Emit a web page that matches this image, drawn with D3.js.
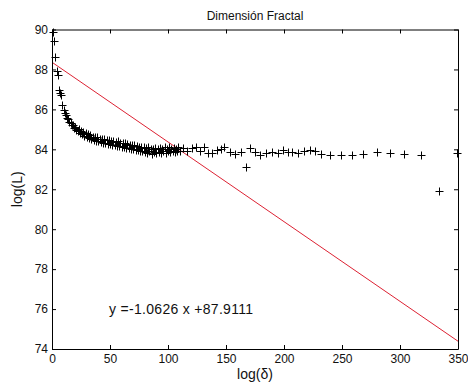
<!DOCTYPE html>
<html><head><meta charset="utf-8">
<script src="https://cdn.jsdelivr.net/npm/d3@7"></script>
<style>
html,body{margin:0;padding:0;background:#fff;}
text{font-family:"Liberation Sans",Arial,Helvetica,sans-serif;fill:#111;}
</style></head>
<body>
<svg id="chart" width="468" height="385"></svg>
<script>
const title = "Dimensión Fractal";
const xLabel = "log(δ)";
const yLabel = "log(L)";
const equation = "y =-1.0626 x +87.9111";
const xTicks = [0,50,100,150,200,250,300,350];
const yTicks = [74,76,78,80,82,84,86,88,90];

// dense part: delta = 1..110
const denseY = [89.88,89.43,88.60,87.93,87.72,86.95,86.80,86.72,86.20,85.98,
85.80,85.72,85.58,85.50,85.38,85.32,85.22,85.24,85.06,85.14,
84.96,84.90,85.04,84.84,84.92,84.76,84.86,84.68,84.82,84.64,
84.76,84.58,84.72,84.52,84.64,84.48,84.60,84.42,84.62,84.40,
84.54,84.36,84.50,84.32,84.52,84.30,84.46,84.28,84.48,84.26,
84.42,84.22,84.44,84.20,84.38,84.16,84.40,84.15,84.32,84.12,
84.34,84.10,84.30,84.08,84.27,84.05,84.24,84.02,84.22,84.00,
84.20,83.96,84.17,83.98,84.14,83.93,84.12,83.90,84.10,83.88,
84.07,83.83,84.10,83.90,84.04,83.76,84.02,83.86,84.07,83.80,
84.00,83.88,84.08,83.83,84.02,83.90,84.10,83.84,84.04,83.93,
84.12,83.86,84.02,83.90,84.08,83.88,84.04,83.93,84.10,83.90];
const denseX = [1,2,3,4,5,6,7,8,9,10,11,12,13,14,15,16,17,18,19,20,
21,22,23,24,25,26,27,28,29,30,31,32,33,34,35,36,37,38,39,40,
41,42,43,44,45,46,47,48,49,50,51,52,53,54,55,56,57,58,59,60,
61,62,63,64,65,66,67,68,69,70,71,72,73,74,75,76,77,78,79,80,
81,82,83,84,85,86,87,88,89,90,91,92,93,94,95,96,97,98,99,100,
101,102,103,104,105,106,107,108,109,110];
// sparse part
const sparseX = [113.2,116.6,120.4,124.1,127.6,131,134.7,137.7,142,145.4,148.3,153.4,157.8,162.7,167.2,170.7,175,179.3,184.5,189.9,194.6,199.4,203.2,207.2,211.8,217.5,222.4,226.7,231.9,239.7,249.1,258.4,268.4,279.9,291.4,303.4,317.8,333.9,348.9];
const sparseY = [84.06,83.94,84.06,84.14,83.94,84.11,83.81,83.84,83.98,84.01,84.14,83.89,83.78,83.89,83.10,84.06,83.89,83.73,83.84,83.86,83.81,83.98,83.89,83.86,83.81,83.90,83.95,83.93,83.76,83.73,83.73,83.73,83.78,83.85,83.81,83.75,83.73,81.93,83.80];
// fitted line endpoints (as drawn)
const fitX = [0, 350];
const fitY = [88.36, 74.39];

const svg = d3.select("#chart");
const L = 52, R = 458, T = 29.5, B = 349;
const x = d3.scaleLinear().domain([0,350]).range([L,R]);
const y = d3.scaleLinear().domain([74,90]).range([B,T]);

const pts = denseX.map((d,i)=>[d,denseY[i]]).concat(sparseX.map((d,i)=>[d,sparseY[i]]));

// fit line
svg.append("line")
  .attr("x1",x(fitX[0])).attr("y1",y(fitY[0]))
  .attr("x2",x(fitX[1])).attr("y2",y(fitY[1]))
  .attr("stroke","#dd2233").attr("stroke-width",1);

// markers
const ms = 4;
svg.append("g").selectAll("path").data(pts).join("path")
  .attr("d", d => {
    const cx = Math.round(x(d[0]))+0.5, cy = Math.round(y(d[1]))+0.5;
    return `M${cx-ms},${cy}H${cx+ms}M${cx},${cy-ms}V${cy+ms}`;
  })
  .attr("stroke","#000").attr("stroke-width",1).attr("fill","none");

// axes (inward ticks, box)
const tk = 4;
const gx = svg.append("g").attr("transform",`translate(0,${B})`)
  .call(d3.axisBottom(x).tickValues(xTicks).tickSizeInner(-tk).tickSizeOuter(0).tickPadding(5));
const gxt = svg.append("g").attr("transform",`translate(0,${T})`)
  .call(d3.axisTop(x).tickValues(xTicks).tickSizeInner(-tk).tickSizeOuter(0).tickFormat(""));
const gy = svg.append("g").attr("transform",`translate(${L},0)`)
  .call(d3.axisLeft(y).tickValues(yTicks).tickSizeInner(-tk).tickSizeOuter(0).tickPadding(4));
const gyr = svg.append("g").attr("transform",`translate(${R},0)`)
  .call(d3.axisRight(y).tickValues(yTicks).tickSizeInner(-tk).tickSizeOuter(0).tickFormat(""));
[gx,gxt,gy,gyr].forEach(g=>{
  g.select(".domain").attr("stroke","#000");
  g.selectAll(".tick line").attr("stroke","#000");
  g.selectAll("text").attr("font-family","Liberation Sans, Arial, sans-serif").attr("font-size",12).attr("fill","#222");
});

// title & labels
svg.append("text").attr("x",(L+R)/2).attr("y",20).attr("text-anchor","middle")
  .attr("font-size",12).text(title);
svg.append("text").attr("x",(L+R)/2).attr("y",379).attr("text-anchor","middle")
  .attr("font-size",14).text(xLabel);
svg.append("text").attr("transform",`translate(22,${(T+B)/2}) rotate(-90)`).attr("text-anchor","middle")
  .attr("font-size",14).text(yLabel);
svg.append("text").attr("x",109).attr("y",314).attr("font-size",14).attr("letter-spacing",0.3).text(equation);
</script>
</body></html>
